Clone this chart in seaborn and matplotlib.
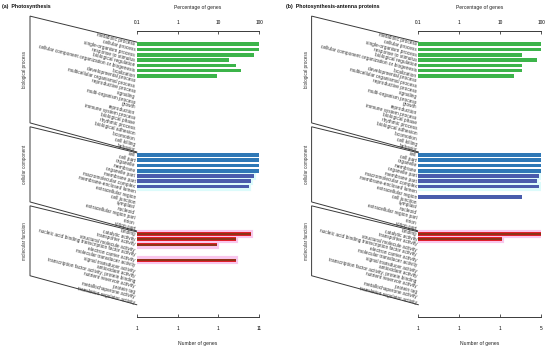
import matplotlib
matplotlib.use("Agg")
import matplotlib.pyplot as plt
import numpy as np
import pandas as pd
import seaborn as sns
from matplotlib.ticker import NullLocator, FixedLocator

# ---------------- data ----------------
bp_terms = ["metabolic process", "cellular process", "single-organism process",
            "response to stimulus", "biological regulation",
            "cellular component organization or biogenesis", "localization",
            "developmental process", "multicellular organismal process",
            "reproductive process", "signaling", "multi-organism process", "growth",
            "reproduction", "immune system process", "biological phase",
            "rhythmic process", "biological adhesion", "locomotion", "cell killing",
            "behavior"]
cc_terms = ["cell", "cell part", "organelle", "membrane", "organelle part",
            "membrane part", "macromolecular complex", "membrane-enclosed lumen",
            "extracellular region", "cell junction", "symplast", "nucleoid",
            "extracellular region part", "virion", "virion part"]
mf_terms = ["binding", "catalytic activity", "transporter activity",
            "structural molecule activity",
            "nucleic acid binding transcription factor activity",
            "electron carrier activity", "molecular transducer activity",
            "signal transducer activity", "antioxidant activity",
            "transcription factor activity, protein binding",
            "nutrient reservoir activity", "protein tag", "metallochaperone activity",
            "translation regulator activity"]
group_names = ["biological process", "cellular component", "molecular function"]

pct_ticks = [0.1, 1, 10, 100]
pct_tick_labels = ["0.1", "1", "10", "100"]

# panel (a) Photosynthesis
a_title = "(a)  Photosynthesis"
a_gene_tick_labels = ["1", "1", "1", "11"]
a_bp_hits = ["metabolic process", "cellular process", "single-organism process",
             "response to stimulus", "biological regulation",
             "cellular component organization or biogenesis", "localization"]
a_bp_pct = [100, 100, 72.7, 18.2, 27.3, 36.4, 9.1]
a_cc_hits = ["cell", "cell part", "organelle", "membrane", "organelle part",
             "membrane part", "macromolecular complex"]
a_cc_pct = [100, 100, 100, 100, 72.7, 63.6, 54.5]
a_mf_hits = ["binding", "catalytic activity", "transporter activity",
             "electron carrier activity"]
a_mf_pct = [63.6, 27.3, 9.1, 27.3]

# panel (b) Photosynthesis-antenna proteins
b_title = "(b)  Photosynthesis-antenna proteins"
b_gene_tick_labels = ["1", "1", "1", "5"]
b_bp_hits = a_bp_hits
b_bp_pct = [100, 100, 34, 80, 34, 34, 22]
b_cc_hits = ["cell", "cell part", "organelle", "membrane", "organelle part",
             "membrane part", "macromolecular complex", "extracellular region"]
b_cc_pct = [100, 100, 100, 100, 91, 81, 91, 34]
b_mf_hits = ["binding", "catalytic activity"]
b_mf_pct = [100, 11]

# ---------------- style ----------------
GREEN = "#3cb44a"
BLUE = "#2f78b6"
VIOLET = "#4a5cac"
RED = "#e0202c"
BROWN = "#7a3a12"
CYAN_HALO = "#dcfbfb"
PINK_HALO = "#f9c6ec"
LINE = "#3a3a3a"

all_terms = bp_terms + cc_terms + mf_terms
W, H = 550, 351
ROW0, ROWSTEP = 44.3, 5.27
AX_TOP, AX_BOT = 31.0, 316.7


def row_y(r):
    return ROW0 + r * ROWSTEP


def build_df(bp_hits, bp_pct, cc_hits, cc_pct, mf_hits, mf_pct):
    rows = []
    for t, v in zip(bp_hits, bp_pct):
        rows.append((t, v, GREEN, None, None))
    for t, v in zip(cc_hits, cc_pct):
        idx = cc_terms.index(t)
        col = BLUE if idx < 4 else VIOLET
        halo = CYAN_HALO if 4 <= idx <= 6 else None
        rows.append((t, v, col, halo, None))
    for t, v in zip(mf_hits, mf_pct):
        rows.append((t, v, RED, PINK_HALO, BROWN))
    return pd.DataFrame(rows, columns=["term", "pct", "color", "halo", "inner"])


panels = [
    dict(title=a_title, genes=a_gene_tick_labels,
         df=build_df(a_bp_hits, a_bp_pct, a_cc_hits, a_cc_pct, a_mf_hits, a_mf_pct),
         x0=136.7, x1=259.3, tx=2.0),
    dict(title=b_title, genes=b_gene_tick_labels,
         df=build_df(b_bp_hits, b_bp_pct, b_cc_hits, b_cc_pct, b_mf_hits, b_mf_pct),
         x0=418.3, x1=541.0, tx=286.0),
]

plt.rcParams["font.family"] = ["Liberation Sans", "DejaVu Sans"]
fig = plt.figure(figsize=(W / 100, H / 100), dpi=100)
fig.patch.set_facecolor("white")

bg = fig.add_axes([0, 0, 1, 1])
bg.set_xlim(0, W)
bg.set_ylim(H, 0)
bg.axis("off")

group_ranges = [(0, len(bp_terms) - 1),
                (len(bp_terms), len(bp_terms) + len(cc_terms) - 1),
                (len(bp_terms) + len(cc_terms), len(all_terms) - 1)]

for P in panels:
    x0, x1 = P["x0"], P["x1"]
    ax = fig.add_axes([x0 / W, 1 - AX_BOT / H, (x1 - x0) / W, (AX_BOT - AX_TOP) / H])
    ax.set_xscale("log")
    df = P["df"]

    halo = df[df["halo"].notna()]
    if len(halo):
        sns.barplot(data=halo, x="pct", y="term", order=all_terms, hue="term",
                    palette=dict(zip(halo["term"], halo["halo"])), orient="h",
                    width=0.8, saturation=1, errorbar=None, legend=False, ax=ax)
        for p in ax.patches:
            p.set_edgecolor(p.get_facecolor())
            p.set_linewidth(3.0)
    sns.barplot(data=df, x="pct", y="term", order=all_terms, hue="term",
                palette=dict(zip(df["term"], df["color"])), orient="h",
                width=0.7, saturation=1, errorbar=None, legend=False, ax=ax,
                linewidth=0)
    inner = df[df["inner"].notna()]
    if len(inner):
        sns.barplot(data=inner, x="pct", y="term", order=all_terms, hue="term",
                    palette=dict(zip(inner["term"], inner["inner"])), orient="h",
                    width=0.4, saturation=1, errorbar=None, legend=False, ax=ax,
                    linewidth=0, alpha=0.8)

    ax.set_xlim(0.1, 100)
    ax.set_ylim((AX_BOT - ROW0) / ROWSTEP, (AX_TOP - ROW0) / ROWSTEP)
    ax.set_xlabel("")
    ax.set_ylabel("")
    ax.xaxis.set_major_locator(FixedLocator(pct_ticks))
    ax.xaxis.set_minor_locator(NullLocator())
    ax.set_xticklabels(P["genes"])
    ax.set_yticks(range(len(all_terms)))
    ax.set_yticklabels(all_terms, rotation=-14, ha="right", va="center",
                       rotation_mode="anchor", fontsize=3.4, color="#333333")
    ax.tick_params(axis="y", length=0, pad=1.2)
    ax.tick_params(axis="x", which="major", direction="in", length=2.3, width=0.6,
                   pad=7.0, labelsize=3.4, color=LINE)
    for s in ["left", "right", "top"]:
        ax.spines[s].set_visible(False)
    ax.spines["bottom"].set_linewidth(0.7)
    ax.spines["bottom"].set_color(LINE)
    ax.patch.set_alpha(0)

    axt = ax.twiny()
    axt.set_xscale("log")
    axt.set_xlim(0.1, 100)
    axt.xaxis.set_major_locator(FixedLocator(pct_ticks))
    axt.xaxis.set_minor_locator(NullLocator())
    axt.set_xticklabels(pct_tick_labels)
    axt.tick_params(axis="x", which="major", direction="in", length=2.3, width=0.6,
                    pad=4.3, labelsize=3.4, color=LINE)
    for s in ["left", "right", "bottom"]:
        axt.spines[s].set_visible(False)
    axt.spines["top"].set_linewidth(0.7)
    axt.spines["top"].set_color(LINE)

    # brackets and group labels
    left_x = x0 - 106.7
    for (r0, r1), name in zip(group_ranges, group_names):
        rt = row_y(r0) - 2.2
        rb = row_y(r1) + 2.2
        lt = rt - 26
        lb = rb - 29
        bg.plot([x0, left_x, left_x, x0], [rt, lt, lb, rb], color=LINE, lw=0.7,
                solid_joinstyle="miter")
        bg.text(left_x - 5, (lt + lb) / 2, name, rotation=90, ha="center",
                va="center", fontsize=3.3, color="#333333")

    cx = (x0 + x1) / 2
    bg.text(cx, 7.3, "Percentage of genes", ha="center", va="center",
            fontsize=3.6, color="#222222")
    bg.text(cx, 344, "Number of genes", ha="center", va="center",
            fontsize=3.6, color="#222222")
    bg.text(P["tx"], 6.5, P["title"], ha="left", va="center", fontsize=3.8,
            fontweight="bold", color="#111111")

fig.savefig("out.png", dpi=100, facecolor="white")
